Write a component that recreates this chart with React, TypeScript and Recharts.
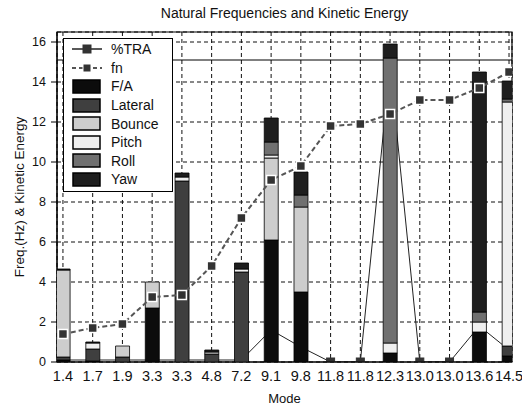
import {
  ComposedChart,
  Bar,
  Line,
  XAxis,
  YAxis,
  CartesianGrid,
  Legend,
  ReferenceLine,
  ReferenceArea,
  Label,
} from "recharts";

// mode labels (natural frequency, Hz)
const modes = ["1.4", "1.7", "1.9", "3.3", "3.3", "4.8", "7.2", "9.1", "9.8", "11.8", "11.8", "12.3", "13.0", "13.0", "13.6", "14.5"];
const fn = [1.4, 1.7, 1.9, 3.25, 3.35, 4.8, 7.2, 9.1, 9.8, 11.8, 11.9, 12.4, 13.1, 13.1, 13.7, 14.5];
const tra = [0.1, 0.1, 0.1, 0.1, 0.1, 0.1, 0.1, 1.6, 0.75, 0, 0, 14.8, 0, 0, 1.8, 0.6];

// kinetic energy split per mode
const fa = [0.1, 0.05, 0, 2.7, 0, 0, 0, 6.1, 3.5, 0, 0, 0.45, 0, 0, 1.5, 0.3];
const lateral = [0.15, 0.6, 0.25, 0, 9.05, 0.4, 4.5, 0, 0, 0, 0, 0, 0, 0, 0, 0.5];
const bounce = [4.35, 0, 0.55, 1.3, 0, 0, 0, 4.1, 4.25, 0, 0, 0, 0, 0, 0, 0];
const pitch = [0, 0.3, 0, 0, 0.2, 0.1, 0.15, 0.15, 0, 0, 0, 0.5, 0, 0, 0.5, 12.2];
const roll = [0, 0, 0, 0, 0, 0, 0, 0.65, 0.6, 0, 0, 14.25, 0, 0, 0.5, 0.15];
const yaw = [0.05, 0.05, 0, 0, 0.2, 0.1, 0.3, 1.2, 1.15, 0, 0, 0.7, 0, 0, 12.0, 0.9];

const seriesKeys = ["fa", "lateral", "bounce", "pitch", "roll", "yaw"];
const seriesNames = ["F/A", "Lateral", "Bounce", "Pitch", "Roll", "Yaw"];
const energy = [fa, lateral, bounce, pitch, roll, yaw];

const yTicks = [0, 2, 4, 6, 8, 10, 12, 14, 16];
const xDomain = [0.8, 16.1];
const yDomain = [0, 16.5];

const colors: Record<string, string> = {
  fa: "#0c0c0c",
  lateral: "#3f3f3f",
  bounce: "#cdcdcd",
  pitch: "#efefef",
  roll: "#707070",
  yaw: "#1e1e1e",
};

const FONT = "'Liberation Sans', Arial, sans-serif";
const W = 522;
const H = 407;

const data = modes.map((m, i) => {
  const row: Record<string, number | string> = { idx: i + 1, mode: m, fn: fn[i], tra: tra[i] };
  seriesKeys.forEach((k, j) => {
    row[k] = energy[j][i];
  });
  return row;
});

const squareDot =
  (size: number, fill: string, stroke: string, sw: number) => (props: any) => {
    const { cx, cy, index } = props;
    if (cx == null || cy == null) return <g key={`d${index}`} />;
    return (
      <rect
        key={`d${index}`}
        x={cx - size / 2}
        y={cy - size / 2}
        width={size}
        height={size}
        fill={fill}
        stroke={stroke}
        strokeWidth={sw}
      />
    );
  };

const LineIcon = ({ dashed }: { dashed?: boolean }) => (
  <svg width={30} height={14} style={{ display: "block" }}>
    <line
      x1={0}
      y1={7}
      x2={30}
      y2={7}
      stroke={dashed ? "#555" : "#222"}
      strokeWidth={dashed ? 2 : 1.5}
      strokeDasharray={dashed ? "4 3" : undefined}
    />
    <rect x={11} y={3} width={8} height={8} fill="#333" stroke={dashed ? "#fff" : "#333"} />
  </svg>
);

const renderLegend = () => {
  const rows = [
    { label: "%TRA", icon: <LineIcon /> },
    { label: "fn", icon: <LineIcon dashed /> },
    ...seriesKeys.map((k, i) => ({
      label: seriesNames[i],
      icon: (
        <svg width={30} height={15} style={{ display: "block" }}>
          <rect x={1} y={1} width={27} height={13} fill={colors[k]} stroke="#000" strokeWidth={1.5} />
        </svg>
      ),
    })),
  ];
  return (
    <div
      style={{
        width: 110,
        height: 154,
        boxSizing: "border-box",
        border: "1.5px solid #000",
        background: "#fff",
        padding: "1px 0 0 8px",
        fontFamily: FONT,
        fontSize: 14,
        color: "#111",
      }}
    >
      {rows.map((r) => (
        <div key={r.label} style={{ display: "flex", alignItems: "center", height: 18.6 }}>
          {r.icon}
          <span style={{ marginLeft: 9 }}>{r.label}</span>
        </div>
      ))}
    </div>
  );
};

const layer: React.CSSProperties = { position: "absolute", left: 0, top: 0 };

export default function App() {
  return (
    <div style={{ position: "absolute", left: 0, top: 0, width: W, height: H, background: "#fff" }}>
      <div
        style={{
          position: "absolute",
          left: 57,
          top: 5,
          width: 455,
          textAlign: "center",
          fontFamily: FONT,
          fontSize: 14,
          lineHeight: "16px",
          color: "#111",
        }}
      >
        Natural Frequencies and Kinetic Energy
      </div>

      {/* back layer: axes, grid and the %TRA line (sits behind the bars) */}
      <div style={layer}>
        <ComposedChart
          width={W}
          height={H}
          data={data}
          margin={{ top: 32, right: 10, bottom: 0, left: 0 }}
          style={{ fontFamily: FONT }}
        >
          <CartesianGrid stroke="#111" strokeDasharray="4 3" />
          <XAxis
            dataKey="idx"
            type="number"
            domain={xDomain}
            ticks={modes.map((_, i) => i + 1)}
            interval={0}
            allowDataOverflow
            height={45}
            tickFormatter={(v: number) => modes[v - 1] ?? ""}
            tick={{ fontSize: 14.5, fill: "#111" }}
            tickLine={false}
            tickSize={5}
            tickMargin={4}
            axisLine={{ stroke: "#000" }}
          >
            <Label value="Mode" position="insideBottom" offset={4} style={{ fontSize: 13, fill: "#111" }} />
          </XAxis>
          <YAxis
            domain={yDomain}
            ticks={yTicks}
            allowDataOverflow
            width={57}
            tick={{ fontSize: 12.5, fill: "#111" }}
            tickSize={6}
            tickMargin={5}
            tickLine={{ stroke: "#000" }}
            axisLine={{ stroke: "#000" }}
          >
            <Label
              value="Freq.(Hz) & Kinetic Energy"
              angle={-90}
              position="insideLeft"
              offset={19}
              style={{ fontSize: 13.5, fill: "#111", textAnchor: "middle" }}
            />
          </YAxis>
          <ReferenceLine y={15.1} stroke="#000" strokeWidth={1} />
          <Line
            dataKey="tra"
            name="%TRA"
            stroke="#222"
            strokeWidth={1}
            dot={squareDot(8, "#333", "#333", 1)}
            activeDot={false}
            isAnimationActive={false}
          />
        </ComposedChart>
      </div>

      {/* front layer: stacked energy bars, fn line, frame and legend */}
      <div style={layer}>
        <ComposedChart
          width={W}
          height={H}
          data={data}
          margin={{ top: 32, right: 10, bottom: 45, left: 57 }}
          style={{ fontFamily: FONT }}
        >
          <XAxis dataKey="idx" type="number" domain={xDomain} allowDataOverflow hide />
          <YAxis domain={yDomain} allowDataOverflow hide />
          {seriesKeys.map((k, i) => (
            <Bar
              key={k}
              dataKey={k}
              name={seriesNames[i]}
              stackId="ke"
              barSize={14}
              fill={colors[k]}
              stroke="#000"
              strokeWidth={0.8}
              isAnimationActive={false}
            />
          ))}
          <Line
            dataKey="fn"
            name="fn"
            stroke="#555"
            strokeWidth={2}
            strokeDasharray="5 3"
            dot={squareDot(9, "#333", "#fff", 1.5)}
            activeDot={false}
            isAnimationActive={false}
          />
          <ReferenceArea x1={0.8} x2={16.1} y1={0} y2={16.5} fill="none" stroke="#000" strokeWidth={1.2} />
          <Legend
            layout="vertical"
            align="center"
            verticalAlign="middle"
            wrapperStyle={{ left: 63, top: 38, width: 110, height: 154 }}
            content={renderLegend}
          />
        </ComposedChart>
      </div>
    </div>
  );
}
